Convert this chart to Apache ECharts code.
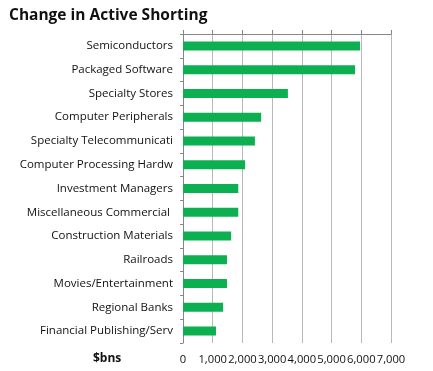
<!DOCTYPE html>
<html><head><meta charset="utf-8">
<script src="https://cdn.jsdelivr.net/npm/echarts@6/dist/echarts.min.js"></script>
<style>html,body{margin:0;padding:0;background:#fff}#c{width:433px;height:371px}</style>
</head><body><div id="c"></div>
<script>
const categories = ["Semiconductors","Packaged Software","Specialty Stores","Computer Peripherals","Specialty Telecommunicati","Computer Processing Hardw","Investment Managers","Miscellaneous Commercial ","Construction Materials","Railroads","Movies/Entertainment","Regional Banks","Financial Publishing/Serv"];
const values = [5960,5790,3530,2630,2420,2090,1860,1860,1620,1480,1480,1350,1110];
const tickLabels = ["0","1,000","2,000","3,000","4,000","5,000","6,000","7,000"];
const title = "Change in Active Shorting";
const unitLabel = "$bns";

const chart = echarts.init(document.getElementById('c'), null, {renderer:'canvas'});
const font = 'Open Sans';
chart.setOption({
  animation:false,
  title:{text:title,left:4,top:3,textStyle:{fontFamily:'Open Sans',fontWeight:'bold',fontSize:15.5,color:'#111'}},
  graphic:[{type:'text',x:93,y:353,style:{text:unitLabel,font:'bold 12px "Open Sans"',fill:'#111'}}],
  grid:{left:183,right:42,top:34,bottom:28,containLabel:false},
  xAxis:[{
    type:'value',position:'top',min:0,max:7000,interval:1000,
    axisLine:{show:true,lineStyle:{color:'#868686',width:1}},
    axisTick:{show:true,length:4,lineStyle:{color:'#868686'}},
    axisLabel:{show:false},
    splitLine:{show:true,lineStyle:{color:'#b8b8b8',width:1}}
  },{
    type:'value',position:'bottom',min:0,max:7000,interval:1000,
    axisLine:{show:false},axisTick:{show:false},splitLine:{show:false},
    axisLabel:{show:true,margin:11,fontFamily:font,fontSize:11.2,color:'#111',hideOverlap:false,
      formatter:function(v){return tickLabels[Math.round(v/1000)];}}
  }],
  yAxis:{
    type:'category',inverse:true,data:categories,
    axisLine:{show:true,lineStyle:{color:'#868686'}},
    axisTick:{show:true,length:3,lineStyle:{color:'#868686'}},
    axisLabel:{margin:10,fontFamily:font,fontSize:11.5,color:'#111'}
  },
  series:[{type:'bar',xAxisIndex:0,data:values,barWidth:9,itemStyle:{color:'#0db050'}}]
});
</script></body></html>
